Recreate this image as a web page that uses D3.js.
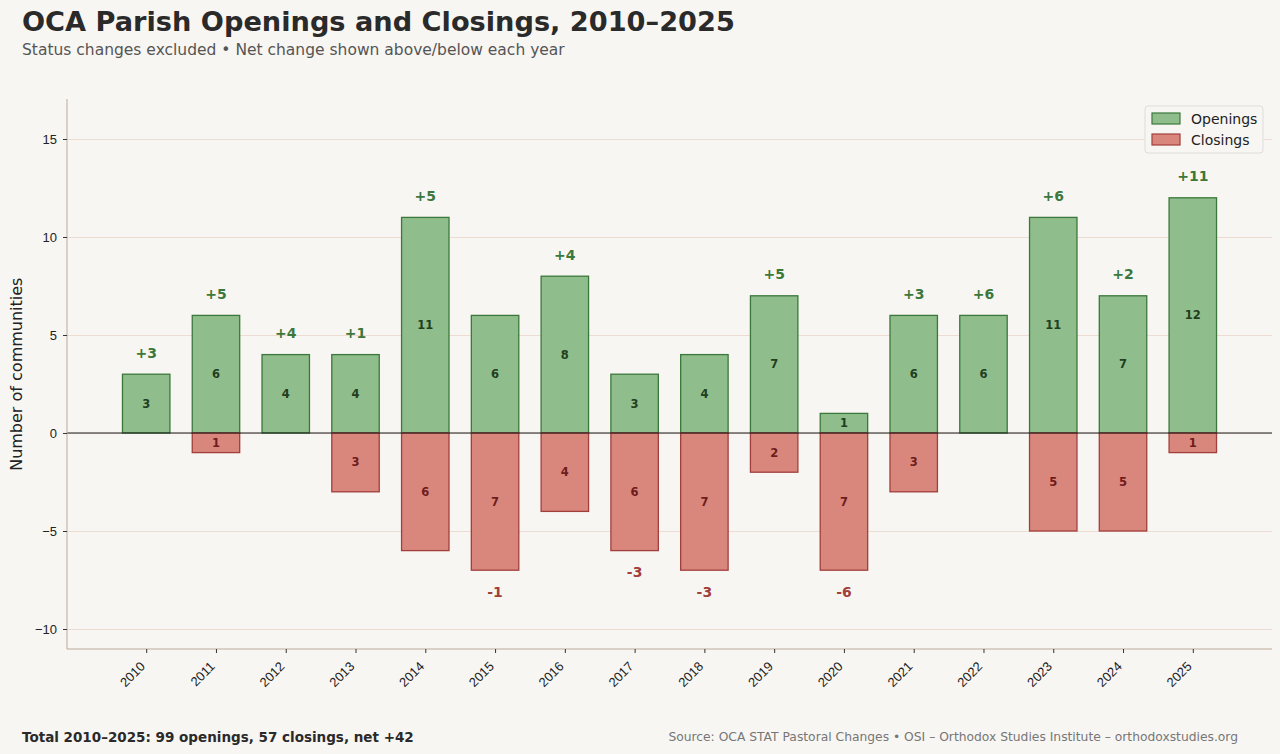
<!DOCTYPE html>
<meta charset="utf-8">
<head>
    <meta charset="utf-8">
    <title>OCA Parish Openings and Closings</title>
    <script src="https://d3js.org/d3.v7.min.js" charset="utf-8"></script>
    <style>
        html, body {
            margin: 0;
            padding: 0;
            background: #f8f6f2;
            font-family: "DejaVu Sans", sans-serif;
        }
        .grid line { stroke: #ecdcd2; stroke-width: 1; }
        .grid path { display: none; }
        .axis text { fill: #222; font-size: 13px; }
        .axis line { stroke: #333; }
        .axis path { stroke: #bcab9a; }
    </style>
</head>
<body>
<svg width="1280" height="754"></svg>
<script>

// データ
var years = ["2010","2011","2012","2013","2014","2015","2016","2017","2018","2019","2020","2021","2022","2023","2024","2025"];
var openings = [3, 6, 4, 4, 11, 6, 8, 3, 4, 7, 1, 6, 6, 11, 7, 12];
var closings = [0, 1, 0, 3, 6, 7, 4, 6, 7, 2, 7, 3, 0, 5, 5, 1];
var yTicks = [-10, -5, 0, 5, 10, 15];

var svg = d3.select("svg"),
    margin = {top: 99, right: 8, bottom: 105, left: 67},
    width = +svg.attr("width") - margin.left - margin.right,
    height = +svg.attr("height") - margin.top - margin.bottom;

var barW = 0.68;

var x = d3.scaleLinear().domain([-1.135, years.length - 1 + 1.135]).range([0, width]);
var y = d3.scaleLinear().domain([-11.02, 17.04]).range([height, 0]);

var g = svg.append("g").attr("transform", "translate(" + margin.left + "," + margin.top + ")");

// グリッド
g.append("g")
    .attr("class", "grid")
    .call(d3.axisLeft(y).tickValues(yTicks).tickSize(-width).tickFormat(""));

// 棒
var data = years.map((d, i) => ({year: d, i: i, open: openings[i], close: closings[i], net: openings[i] - closings[i]}));

g.selectAll(".open").data(data).enter().append("rect")
    .attr("class", "open")
    .attr("x", d => x(d.i - barW / 2))
    .attr("width", x(barW) - x(0))
    .attr("y", d => y(d.open))
    .attr("height", d => y(0) - y(d.open))
    .attr("fill", "#8fbd8b")
    .attr("stroke", "#3b783b")
    .attr("stroke-width", 1.3);

g.selectAll(".close").data(data.filter(d => d.close > 0)).enter().append("rect")
    .attr("class", "close")
    .attr("x", d => x(d.i - barW / 2))
    .attr("width", x(barW) - x(0))
    .attr("y", y(0))
    .attr("height", d => y(-d.close) - y(0))
    .attr("fill", "#d9877d")
    .attr("stroke", "#a23e3b")
    .attr("stroke-width", 1.3);

// 棒の中の値
g.selectAll(".openLbl").data(data).enter().append("text")
    .attr("x", d => x(d.i))
    .attr("y", d => y(d.open / 2))
    .attr("dy", "0.35em")
    .attr("text-anchor", "middle")
    .attr("font-size", 11.5)
    .attr("font-weight", "bold")
    .attr("fill", "#1f3f1f")
    .text(d => d.open);

g.selectAll(".closeLbl").data(data.filter(d => d.close > 0)).enter().append("text")
    .attr("x", d => x(d.i))
    .attr("y", d => y(-d.close / 2))
    .attr("dy", "0.35em")
    .attr("text-anchor", "middle")
    .attr("font-size", 11.5)
    .attr("font-weight", "bold")
    .attr("fill", "#6e1c1c")
    .text(d => d.close);

// 純増減
g.selectAll(".netLbl").data(data).enter().append("text")
    .attr("x", d => x(d.i))
    .attr("y", d => d.net >= 0 ? y(d.open + 1.1) : y(-d.close - 1.1))
    .attr("dy", "0.35em")
    .attr("text-anchor", "middle")
    .attr("font-size", 14)
    .attr("font-weight", "bold")
    .attr("fill", d => d.net >= 0 ? "#3b783b" : "#a23e3b")
    .text(d => (d.net > 0 ? "+" : "") + d.net);

// ゼロ線
g.append("line")
    .attr("x1", 0).attr("x2", width)
    .attr("y1", y(0)).attr("y2", y(0))
    .attr("stroke", "#1a1a1a")
    .attr("stroke-width", 1.2);

// 軸
var yAxis = g.append("g")
    .attr("class", "axis")
    .call(d3.axisLeft(y).tickValues(yTicks).tickSize(4).tickPadding(6).tickFormat(d => d < 0 ? "\u2212" + Math.abs(d) : d));

var xAxis = g.append("g")
    .attr("class", "axis")
    .attr("transform", "translate(0," + height + ")")
    .call(d3.axisBottom(x).tickValues(d3.range(years.length)).tickSize(4).tickSizeOuter(0).tickFormat(i => years[i]));

xAxis.selectAll("text")
    .attr("x", 0)
    .attr("y", 0)
    .attr("text-anchor", "end")
    .attr("dy", "0.35em")
    .attr("transform", "translate(-4,15) rotate(-45)");
xAxis.select(".domain").attr("d", "M0,0H" + width);
yAxis.select(".domain").attr("d", "M0," + height + "V0");

// 軸ラベル
svg.append("text")
    .attr("transform", "translate(22," + (margin.top + y(3)) + ") rotate(-90)")
    .attr("text-anchor", "middle")
    .attr("font-size", 16)
    .attr("fill", "#222")
    .text("Number of communities");

// 凡例
var legend = svg.append("g").attr("transform", "translate(1145,106)");
legend.append("rect")
    .attr("width", 118).attr("height", 47).attr("rx", 3)
    .attr("fill", "#f8f6f2").attr("stroke", "#ddd");
[["Openings", "#8fbd8b", "#3b783b"], ["Closings", "#d9877d", "#a23e3b"]].forEach((d, i) => {
    legend.append("rect")
        .attr("x", 7).attr("y", 7 + i * 21)
        .attr("width", 28).attr("height", 11)
        .attr("fill", d[1]).attr("stroke", d[2]).attr("stroke-width", 1.2);
    legend.append("text")
        .attr("x", 46).attr("y", 13 + i * 21)
        .attr("dy", "0.35em")
        .attr("font-size", 14)
        .attr("fill", "#222")
        .text(d[0]);
});

// タイトル
svg.append("text")
    .attr("x", 22).attr("y", 31)
    .attr("font-size", 27.2)
    .attr("font-weight", "bold")
    .attr("fill", "#2a2a2a")
    .text("OCA Parish Openings and Closings, 2010\u20132025");

svg.append("text")
    .attr("x", 22).attr("y", 55)
    .attr("font-size", 15.5)
    .attr("fill", "#555")
    .text("Status changes excluded \u2022 Net change shown above/below each year");

// フッター
svg.append("text")
    .attr("x", 22).attr("y", 742)
    .attr("font-size", 13.5)
    .attr("font-weight", "bold")
    .attr("fill", "#2a2a2a")
    .text("Total 2010\u20132025: " + d3.sum(openings) + " openings, " + d3.sum(closings) + " closings, net +" + (d3.sum(openings) - d3.sum(closings)));

svg.append("text")
    .attr("x", 1238).attr("y", 741)
    .attr("text-anchor", "end")
    .attr("font-size", 12.3)
    .attr("fill", "#777")
    .text("Source: OCA STAT Pastoral Changes \u2022 OSI \u2013 Orthodox Studies Institute \u2013 orthodoxstudies.org");

</script>
</body>
</html>
